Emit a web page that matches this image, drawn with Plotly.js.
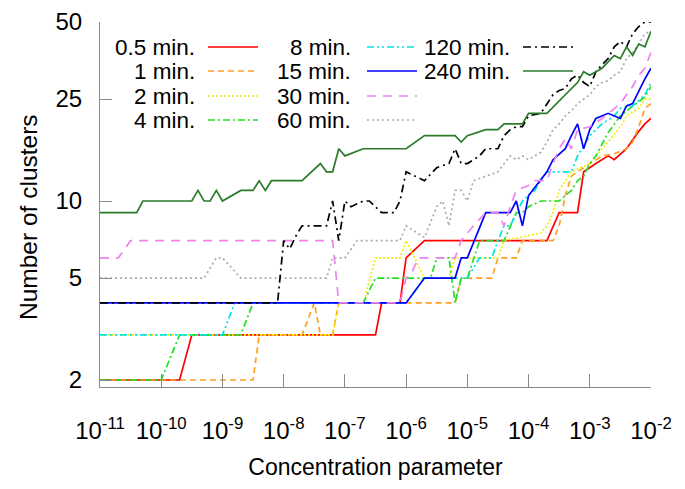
<!DOCTYPE html>
<html>
<head>
<meta charset="utf-8">
<script src="https://cdn.plot.ly/plotly-3.0.1.min.js"></script>
<style>
  html, body { margin: 0; padding: 0; background: #fff; }
  #chart { width: 685px; height: 489px; }
</style>
</head>
<body>
<div id="chart"></div>
<script>
// Number of clusters versus the concentration parameter, one curve per run time.
// x values are stored as log10 of the concentration parameter.

const names = ['0.5 min.', '1 min.', '2 min.', '4 min.', '8 min.',
               '15 min.', '30 min.', '60 min.', '120 min.', '240 min.'];

const logC_0_5 = [-11, -9.7, -9.5, -6.5, -6.4, -6.1, -6.0, -5.7, -3.7, -3.5, -3.2, -3.1, -2.9, -2.7, -2.6, -2.4, -2.2, -2.1, -2.0];
const n_0_5    = [2, 2, 3, 3, 4, 4, 6, 7, 7, 9, 9, 13, 14, 15, 14.5, 16, 18.7, 20, 21];

const logC_1 = [-11, -8.5, -8.4, -7.7, -7.5, -7.4, -7.2, -7.1, -5.2, -5.1, -4.6, -4.5, -4.2, -4.1, -3.6, -3.5, -3.4, -3.3, -3.2, -3.0, -2.8, -2.6, -2.4, -2.3, -2.2, -2.1, -2.0];
const n_1    = [2, 2, 3, 3, 4, 3, 3, 4, 4, 5, 5, 6, 6, 7, 7, 8, 10.5, 12.5, 13, 14, 15, 15.3, 16, 17, 19.5, 23, 24];

const logC_2 = [-11, -7.2, -7.1, -6.7, -6.5, -6.1, -6.0, -5.7, -5.3, -5.2, -4.5, -4.4, -3.8, -3.7, -3.6, -3.5, -3.3, -3.0, -2.8, -2.7, -2.5, -2.4, -2.2, -2.1, -2.0];
const n_2    = [3, 3, 4, 4, 6, 6, 7, 5, 5, 6, 6, 7, 7.5, 8, 9, 11, 13, 14, 16, 17, 19.5, 21.5, 23, 25, 25];

const logC_4 = [-11, -10.0, -9.7, -8.7, -8.5, -6.7, -6.5, -5.6, -5.5, -5.3, -5.2, -5.1, -5.0, -4.8, -4.4, -4.3, -4.2, -4.1, -4.0, -3.8, -3.5, -3.3, -3.2, -3.1, -3.0, -2.9, -2.7, -2.5, -2.3, -2.1, -2.0];
const n_4    = [2, 2, 3, 3, 4, 4, 5, 5, 6, 6, 4, 5, 5, 7, 7, 8, 9, 9, 9.5, 10, 10, 11, 12, 12.5, 14, 15, 18.5, 21.5, 23.5, 25.5, 28];

const logC_8 = [-11, -9.0, -8.8, -6.0, -5.7, -5.0, -4.8, -4.6, -4.5, -4.4, -4.3, -4.2, -4.1, -4.0, -3.9, -3.8, -3.7, -3.3, -3.2, -3.0, -2.8, -2.6, -2.5, -2.3, -2.1, -2.0];
const n_8    = [3, 3, 4, 4, 5, 5, 6, 6, 7, 8, 8, 9, 10, 10.5, 11, 12, 13, 13, 15, 18, 20, 21.5, 23, 23.5, 26, 29];

const logC_15 = [-11, -6.0, -5.7, -5.2, -5.1, -5.0, -4.7, -4.3, -4.2, -4.1, -4.0, -3.7, -3.6, -3.4, -3.3, -3.2, -3.1, -3.0, -2.9, -2.7, -2.5, -2.4, -2.3, -2.2, -2.1, -2.0];
const n_15    = [4, 4, 5, 5, 6, 6, 9, 9, 10, 8, 10.5, 13, 14.5, 16, 18, 20, 16, 19, 21, 22, 21, 23.5, 24, 27, 30, 33];

const logC_30 = [-11, -10.7, -10.5, -7.2, -7.1, -6.1, -6.0, -5.9, -5.8, -5.2, -5.1, -4.9, -4.7, -4.5, -4.4, -4.3, -4.2, -4.0, -3.9, -3.7, -3.6, -3.5, -3.4, -3.3, -3.2, -3.0, -2.8, -2.7, -2.5, -2.4, -2.3, -2.2, -2.1, -2.0];
const n_30    = [6, 6, 7, 7, 4, 4, 5, 5.3, 6, 6, 7, 8, 9, 9, 8, 9.5, 11, 11.5, 12, 12, 14, 16, 17.5, 16, 19, 19.5, 21, 22, 24, 26, 28, 31, 33, 38];

const logC_60 = [-11, -9.3, -9.1, -9.0, -8.7, -7.3, -7.2, -7.0, -6.8, -6.1, -6.0, -5.7, -5.5, -5.4, -5.3, -5.2, -5.1, -5.0, -4.9, -4.7, -4.5, -4.4, -4.3, -4.2, -4.1, -4.0, -3.8, -3.7, -3.6, -3.5, -3.4, -3.3, -3.2, -3.1, -3.0, -2.9, -2.8, -2.7, -2.6, -2.5, -2.4, -2.3, -2.2, -2.1, -2.0];
const n_60    = [5, 5, 6, 6, 5, 5, 6, 6, 7, 7, 8, 7.2, 9.5, 10, 8, 11, 11, 10, 12, 12.5, 13, 14, 15, 14.5, 15, 14.5, 15.5, 17, 19, 20, 21.5, 22.5, 24, 25, 26, 28, 29, 29.5, 31, 32, 36, 38, 41, 45, 46];

const logC_120 = [-11, -8.1, -8.0, -7.9, -7.8, -7.7, -7.3, -7.2, -7.1, -7.0, -6.9, -6.7, -6.6, -6.4, -6.2, -6.1, -6.0, -5.7, -5.5, -5.3, -5.2, -5.1, -5.0, -4.8, -4.7, -4.5, -4.4, -4.3, -4.2, -4.1, -4.0, -3.8, -3.6, -3.5, -3.4, -3.3, -3.2, -3.1, -3.0, -2.9, -2.8, -2.7, -2.6, -2.5, -2.4, -2.3, -2.2, -2.1, -2.0];
const n_120    = [4, 4, 7, 6.5, 7.3, 8, 8, 10, 7, 10, 9.5, 10, 10, 9, 9, 10, 13, 12, 13.5, 14, 16, 14, 14, 15, 16, 16, 18, 19, 19.5, 19.5, 21.5, 22, 26, 27, 27.5, 30, 31, 29, 28, 32, 34, 36, 40, 42, 40, 45, 48, 50, 50];

const logC_240 = [-11, -10.4, -10.3, -9.5, -9.4, -9.3, -9.2, -9.1, -9.0, -8.7, -8.5, -8.4, -8.3, -8.2, -7.7, -7.4, -7.3, -7.2, -7.1, -7.0, -6.7, -6.0, -5.7, -5.2, -5.1, -5.0, -4.7, -4.5, -4.4, -4.1, -4.0, -3.7, -3.4, -3.2, -3.1, -3.0, -2.8, -2.7, -2.6, -2.5, -2.4, -2.3, -2.2, -2.1, -2.0];
const n_240    = [9, 9, 10, 10, 11, 10, 10, 11, 10, 11, 11, 12, 11, 12, 12, 14, 13, 13, 16, 15, 16, 16, 18, 18, 17, 18, 19, 19, 20, 20, 22, 22, 26, 29, 32, 31, 33, 35, 37, 36, 40, 37, 41, 40, 46];

const xTickExps   = [-11, -10, -9, -8, -7, -6, -5, -4, -3, -2];
const yTickValues = [2, 5, 10, 25, 50];

// Line styles per curve (colour, dash pattern)
const styles = [
  { color: '#ff0000', dash: 'solid' },
  { color: '#ffa020', dash: '6px,4px' },
  { color: '#f2ee00', dash: '2px,2px' },
  { color: '#22e022', dash: '7px,3px,2px,3px' },
  { color: '#00e4e4', dash: '7px,3px,2px,3px,2px,3px' },
  { color: '#0000ff', dash: 'solid' },
  { color: '#ee82ee', dash: '9px,7px' },
  { color: '#aaaaaa', dash: '2px,3px' },
  { color: '#000000', dash: '8px,4px,2px,4px' },
  { color: '#2b7b2b', dash: 'solid' }
];

const xs = [logC_0_5, logC_1, logC_2, logC_4, logC_8, logC_15, logC_30, logC_60, logC_120, logC_240];
const ys = [n_0_5, n_1, n_2, n_4, n_8, n_15, n_30, n_60, n_120, n_240];

const FONT = 'Liberation Sans, Arial, sans-serif';
const AXIS_GREY = '#8a8a8a';

const traces = names.map((nm, i) => ({
  type: 'scatter',
  mode: 'lines',
  name: nm,
  x: xs[i].map(e => Math.pow(10, e)),
  y: ys[i],
  line: { color: styles[i].color, dash: styles[i].dash, width: 1.7 },
  showlegend: false,
  hoverinfo: 'skip'
}));

// Plot area geometry in pixels (used to place the key and the y title)
const W = 685, H = 489;
const M = { l: 100, r: 34, t: 22, b: 102 };
const pw = W - M.l - M.r, ph = H - M.t - M.b;
const px2paper = px => (px - M.l) / pw;
const py2paper = py => (H - M.b - py) / ph;

// Key: three columns, text right-aligned followed by a line sample
const keyCols = [
  { textRight: 196, x0: 208, x1: 258 },
  { textRight: 352, x0: 367, x1: 417 },
  { textRight: 511, x0: 523, x1: 573 }
];
const keyRows = [47, 71, 96, 120];
const annotations = [];
const keyShapes = [];
names.forEach((nm, i) => {
  const c = keyCols[Math.floor(i / 4)];
  const r = keyRows[i % 4];
  annotations.push({
    xref: 'paper', yref: 'paper',
    x: px2paper(c.textRight), y: py2paper(r),
    xanchor: 'right', yanchor: 'middle',
    text: nm, showarrow: false, borderpad: 0,
    font: { family: FONT, size: 22.5, color: '#000' }
  });
  keyShapes.push({
    type: 'line', xref: 'paper', yref: 'paper',
    x0: px2paper(c.x0), x1: px2paper(c.x1),
    y0: py2paper(r), y1: py2paper(r),
    line: { color: styles[i].color, dash: styles[i].dash, width: 1.7 }
  });
});

// y-axis title
annotations.push({
  xref: 'paper', yref: 'paper',
  x: px2paper(28), y: py2paper(217),
  xanchor: 'center', yanchor: 'middle',
  text: 'Number of clusters', textangle: -90, showarrow: false,
  font: { family: FONT, size: 24.5, color: '#000' }
});

const layout = {
  width: W, height: H,
  margin: M,
  paper_bgcolor: '#fff', plot_bgcolor: '#fff',
  font: { family: FONT, size: 24, color: '#000' },
  xaxis: {
    type: 'log',
    range: [-11, -2],
    tickvals: xTickExps.map(e => Math.pow(10, e)),
    ticktext: xTickExps.map(e => '10<sup>' + e + '</sup>'),
    ticks: 'inside', ticklen: 13, tickwidth: 1, tickcolor: AXIS_GREY,
    showline: true, linecolor: AXIS_GREY, linewidth: 1, mirror: false,
    showgrid: false, zeroline: false,
    tickfont: { family: FONT, size: 24, color: '#000' },
    ticklabelstandoff: 22,
    title: { text: 'Concentration parameter', font: { family: FONT, size: 23, color: '#000' }, standoff: 16 },
    automargin: false
  },
  yaxis: {
    type: 'log',
    range: [Math.log10(2) - 7 / 256, Math.log10(50)],
    tickvals: yTickValues,
    ticktext: yTickValues.map(String),
    ticks: 'inside', ticklen: 12, tickwidth: 1, tickcolor: AXIS_GREY,
    showline: true, linecolor: AXIS_GREY, linewidth: 1, mirror: false,
    showgrid: false, zeroline: false,
    tickfont: { family: FONT, size: 24, color: '#000' },
    ticklabelstandoff: 12,
    automargin: false
  },
  annotations: annotations,
  shapes: keyShapes,
  showlegend: false
};

Plotly.newPlot('chart', traces, layout, { staticPlot: true, displayModeBar: false });
</script>
</body>
</html>
